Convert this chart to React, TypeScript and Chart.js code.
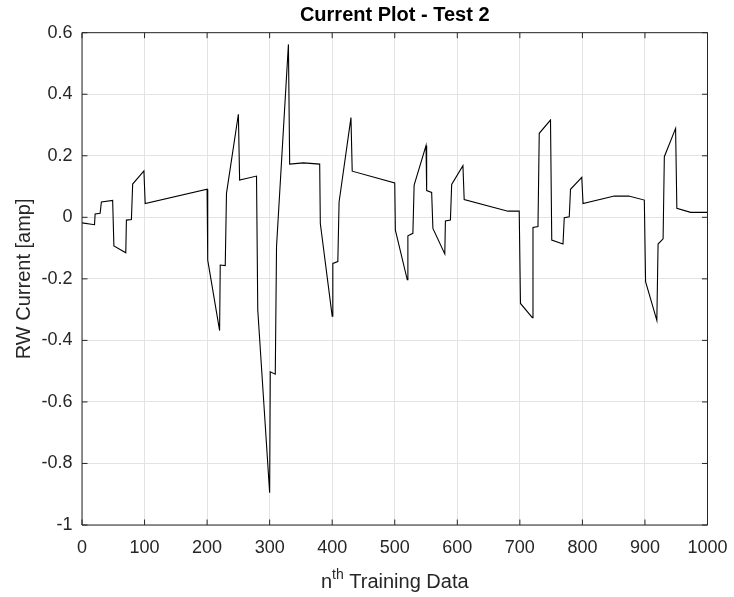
import React, { useEffect, useRef } from "react";
import { Chart, registerables } from "chart.js";

Chart.register(...registerables);

// Sample index of each recorded point
const sampleIndex = [
  0, 20, 21, 29, 31, 49, 51, 70, 71, 79, 81, 99, 101, 200, 201, 220, 221, 229,
  231, 250, 252, 279, 281, 300, 301, 309, 311, 330, 332, 354, 380, 381, 400,
  401, 409, 411, 430, 432, 500, 501, 520, 521, 529, 531, 550, 551, 559, 561,
  580, 581, 589, 591, 609, 611, 681, 699, 701, 720, 721, 729, 731, 749, 751,
  769, 771, 779, 781, 799, 801, 851, 874, 899, 901, 919, 921, 929, 931, 949,
  951, 973, 1000,
];

// Reaction wheel current [amp] at each sample
const current = [
  -0.018, -0.024, 0.011, 0.013, 0.05, 0.055, -0.093, -0.115, -0.009, -0.007,
  0.108, 0.151, 0.045, 0.091, -0.139, -0.368, -0.155, -0.157, 0.078, 0.335,
  0.121, 0.134, -0.301, -0.895, -0.502, -0.51, -0.095, 0.562, 0.173, 0.177,
  0.173, -0.02, -0.321, -0.15, -0.144, 0.05, 0.324, 0.15, 0.112, -0.042,
  -0.203, -0.06, -0.052, 0.105, 0.233, 0.087, 0.081, -0.036, -0.119, -0.012,
  -0.009, 0.107, 0.168, 0.058, 0.02, 0.02, -0.28, -0.326, -0.033, -0.03, 0.273,
  0.316, -0.074, -0.087, -0.001, 0.002, 0.091, 0.13, 0.045, 0.069, 0.069,
  0.056, -0.209, -0.335, -0.087, -0.07, 0.197, 0.289, 0.029, 0.016, 0.016,
];

const xTicks = [0, 100, 200, 300, 400, 500, 600, 700, 800, 900, 1000];
const yTicks = [-1, -0.8, -0.6, -0.4, -0.2, 0, 0.2, 0.4, 0.6];

const titleText = "Current Plot - Test 2";
const yLabelText = "RW Current [amp]";

const FONT = "'Liberation Sans', Arial, Helvetica, sans-serif";
const INK = "#262626";

// Box outline, inward tick marks, title and axis labels
const decorPlugin = {
  id: "decor",
  afterDatasetsDraw(chart: any) {
    const { ctx, chartArea, scales } = chart;
    const { left, right, top, bottom } = chartArea;
    const tl = 5.5;
    ctx.save();
    ctx.strokeStyle = INK;
    ctx.lineWidth = 1;
    ctx.beginPath();
    ctx.rect(left, top, right - left, bottom - top);
    ctx.stroke();
    ctx.beginPath();
    xTicks.forEach((v) => {
      const px = scales.x.getPixelForValue(v);
      ctx.moveTo(px, bottom);
      ctx.lineTo(px, bottom - tl);
      ctx.moveTo(px, top);
      ctx.lineTo(px, top + tl);
    });
    yTicks.forEach((v) => {
      const py = scales.y.getPixelForValue(v);
      ctx.moveTo(left, py);
      ctx.lineTo(left + tl, py);
      ctx.moveTo(right, py);
      ctx.lineTo(right - tl, py);
    });
    ctx.stroke();

    const cx = (left + right) / 2;
    ctx.fillStyle = "#000";
    ctx.font = `bold 20px ${FONT}`;
    ctx.textAlign = "center";
    ctx.textBaseline = "alphabetic";
    ctx.fillText(titleText, cx, 21);

    // x label: n^th Training Data
    ctx.fillStyle = INK;
    const base = 588;
    const mainFont = `20px ${FONT}`;
    const supFont = `14px ${FONT}`;
    ctx.font = mainFont;
    const wN = ctx.measureText("n").width;
    const wRest = ctx.measureText(" Training Data").width;
    ctx.font = supFont;
    const wSup = ctx.measureText("th").width;
    let x0 = cx - (wN + wSup + wRest) / 2;
    ctx.textAlign = "left";
    ctx.font = mainFont;
    ctx.fillText("n", x0, base);
    x0 += wN;
    ctx.font = supFont;
    ctx.fillText("th", x0, base - 9);
    x0 += wSup;
    ctx.font = mainFont;
    ctx.fillText(" Training Data", x0, base);

    // y label
    ctx.save();
    ctx.translate(30, (top + bottom) / 2);
    ctx.rotate(-Math.PI / 2);
    ctx.textAlign = "center";
    ctx.textBaseline = "alphabetic";
    ctx.font = mainFont;
    ctx.fillText(yLabelText, 0, 0);
    ctx.restore();
    ctx.restore();
  },
};

export default function App() {
  const canvasRef = useRef<HTMLCanvasElement | null>(null);

  useEffect(() => {
    document.body.style.margin = "0";
    const canvas = canvasRef.current;
    if (!canvas) return;
    const points = sampleIndex.map((x, i) => ({ x, y: current[i] }));
    const chart = new Chart(canvas, {
      type: "line",
      data: {
        datasets: [
          {
            data: points,
            borderColor: "#000",
            borderWidth: 1.1,
            pointRadius: 0,
            tension: 0,
            fill: false,
          },
        ],
      },
      options: {
        animation: false,
        responsive: false,
        devicePixelRatio: 1,
        events: [],
        layout: { padding: { left: 0, right: 26.5, top: 32.7, bottom: 0 } },
        plugins: {
          legend: { display: false },
          title: { display: false },
          tooltip: { enabled: false },
        },
        scales: {
          x: {
            type: "linear",
            min: 0,
            max: 1000,
            afterFit: (s: any) => {
              s.height = 72;
              s.paddingLeft = 0;
              s.paddingRight = 0;
            },
            afterBuildTicks: (s: any) => {
              s.ticks = xTicks.map((v) => ({ value: v }));
            },
            grid: { color: "#e3e3e3", drawTicks: false, lineWidth: 1 },
            border: { display: false },
            ticks: {
              color: INK,
              padding: 12,
              maxRotation: 0,
              font: { family: FONT, size: 18 },
              callback: (v: any) => String(v),
            },
          },
          y: {
            type: "linear",
            min: -1,
            max: 0.6,
            afterFit: (s: any) => {
              s.width = 82;
              s.paddingTop = 0;
              s.paddingBottom = 0;
            },
            afterBuildTicks: (s: any) => {
              s.ticks = yTicks.map((v) => ({ value: v }));
            },
            grid: { color: "#e3e3e3", drawTicks: false, lineWidth: 1 },
            border: { display: false },
            ticks: {
              color: INK,
              padding: 9.5,
              font: { family: FONT, size: 18 },
              callback: (v: any) => String(Math.round(Number(v) * 10) / 10),
            },
          },
        },
      },
      plugins: [decorPlugin],
    });
    return () => chart.destroy();
  }, []);

  return (
    <div style={{ width: 734, height: 597, background: "#fff" }}>
      <canvas ref={canvasRef} width={734} height={597} />
    </div>
  );
}
